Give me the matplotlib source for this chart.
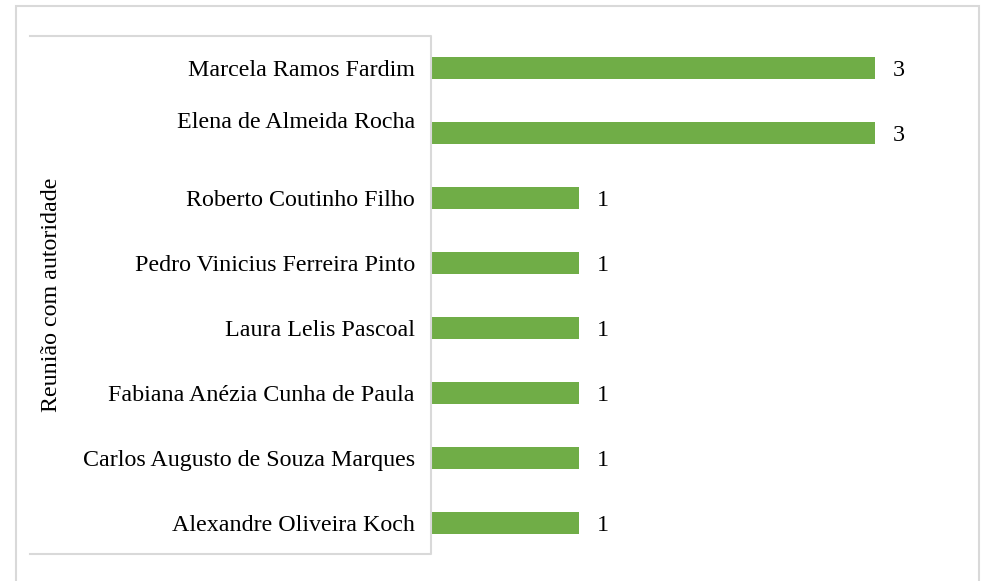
import matplotlib.pyplot as plt
from matplotlib.lines import Line2D
from matplotlib.patches import Rectangle

# names, bottom to top
names = [
    "Alexandre Oliveira Koch",
    "Carlos Augusto de Souza Marques",
    "Fabiana Anézia Cunha de Paula",
    "Laura Lelis Pascoal",
    "Pedro Vinicius Ferreira Pinto",
    "Roberto Coutinho Filho",
    "Elena de Almeida Rocha",
    "Marcela Ramos Fardim",
]
meetings = [1, 1, 1, 1, 1, 1, 3, 3]
axis_title = "Reunião com autoridade"

plt.rcParams['font.family'] = ['Liberation Serif', 'DejaVu Serif']

W, H = 991, 581
fig = plt.figure(figsize=(W / 100, H / 100), dpi=100)

# bar area in pixels: left 431, right 979, top 36, bottom 554
ax = fig.add_axes([431 / W, 1 - 554 / H, (979 - 431) / W, (554 - 36) / H])
pos = list(range(len(names)))
ax.barh(pos, meetings, height=0.34, color='#70AD47')
ax.set_xlim(0, 548 / 148)
ax.set_ylim(-0.477, 7.492)
ax.set_xticks([])
ax.set_yticks([])
for s in ax.spines.values():
    s.set_visible(False)

fs = 17.3

# category labels (Elena's sits a bit higher in the original)
label_shift = {"Elena de Almeida Rocha": 13}
for i, name in enumerate(names):
    ax.annotate(name, xy=(0, i), xycoords=('axes fraction', 'data'),
                xytext=(-16, label_shift.get(name, 0) - 3), textcoords='offset pixels',
                ha='right', va='center', fontsize=fs, color='black',
                annotation_clip=False)

# value labels
for i, v in enumerate(meetings):
    ax.annotate(str(v), xy=(v, i), xytext=(18, -3), textcoords='offset pixels',
                ha='left', va='center', fontsize=fs, color='black')

fig.text(52 / W, 1 - 295 / H, axis_title, rotation=90, ha='center', va='center',
         fontsize=fs)

# light grey frames
grey = '#d9d9d9'
fig.add_artist(Rectangle((16 / W, 1 - 590 / H), (979 - 16) / W, (590 - 6) / H,
                         transform=fig.transFigure, fill=False, edgecolor=grey, lw=1.5))
fig.add_artist(Line2D([30 / W, 431 / W, 431 / W, 30 / W],
                      [1 - 36 / H, 1 - 36 / H, 1 - 554 / H, 1 - 554 / H],
                      transform=fig.transFigure, color=grey, lw=1.5))

fig.savefig('out.png', dpi=100)
